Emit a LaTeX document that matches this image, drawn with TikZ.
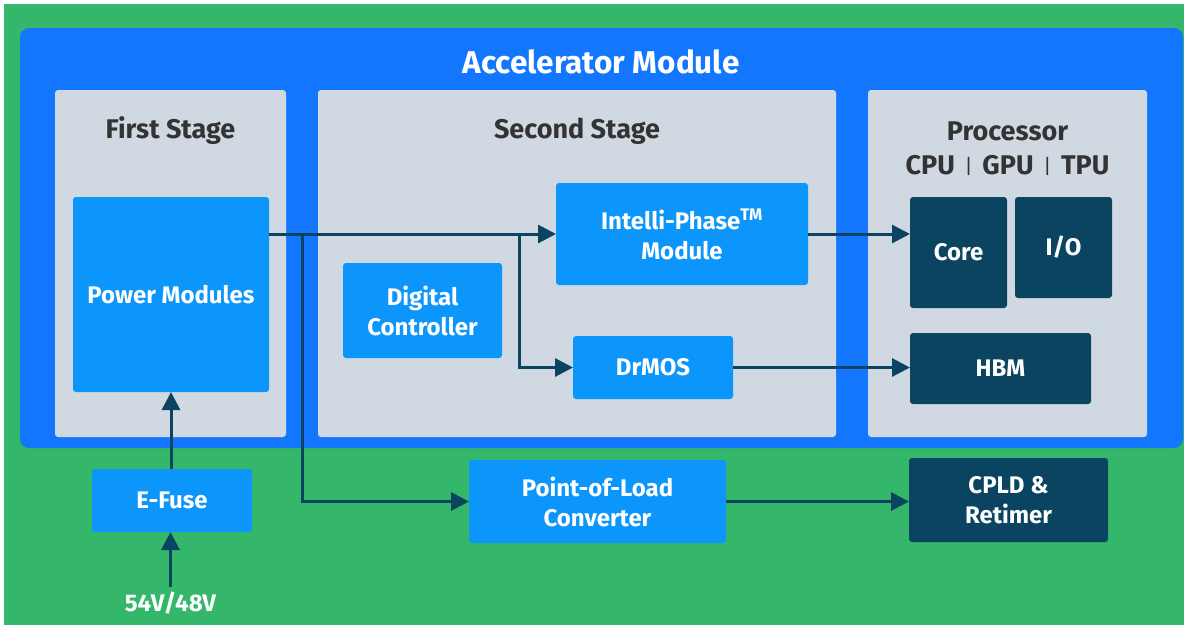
\documentclass[tikz,border=0pt]{standalone}
\usepackage{fontspec}
\setmainfont{Fira Sans}
\usetikzlibrary{arrows.meta}
\definecolor{bggreen}{HTML}{34B76A}
\definecolor{outerblue}{HTML}{1277FE}
\definecolor{panelgray}{HTML}{D0D8E1}
\definecolor{lightblue}{HTML}{0C96FC}
\definecolor{navy}{HTML}{0A4460}
\definecolor{titlegray}{HTML}{333333}
\tikzset{
  panel/.style={fill=panelgray, rounded corners=3pt, draw=none},
  lb/.style={fill=lightblue, rounded corners=3pt, text=white, font=\bfseries\fontsize{24}{30}\selectfont, align=center, inner sep=0pt, outer sep=0pt},
  db/.style={fill=navy, rounded corners=3pt, text=white, font=\bfseries\fontsize{24}{30}\selectfont, align=center, inner sep=0pt, outer sep=0pt},
  ptitle/.style={text=titlegray, font=\bfseries\fontsize{27}{32}\selectfont, inner sep=0pt},
  conn/.style={draw=navy, line width=3pt, -{Triangle[length=18pt,width=18pt]}},
  plain/.style={draw=navy, line width=3pt}
}
\begin{document}
\begin{tikzpicture}[x=1pt,y=-1pt]
\useasboundingbox (0,0) rectangle (1184,625);
\fill[white] (0,0) rectangle (1184,625);
\fill[bggreen] (4,4) rectangle (1184,625);
\fill[outerblue, rounded corners=9pt] (20,28) rectangle (1183,448);
\node[text=white, font=\bfseries\fontsize{31.5}{36}\selectfont, inner sep=0pt] (title) at (601,62) {Accelerator Module};
% panels
\fill[panel] (55,90) rectangle (286,437);
\fill[panel] (318,90) rectangle (836,437);
\fill[panel] (868,90) rectangle (1147,437);
\node[ptitle] (t1) at (170.5,131) {First Stage};
\node[ptitle] (t2) at (577,131) {Second Stage};
\node[ptitle] (t3) at (1007.5,131) {Processor};
\node[ptitle] (t4) at (1007.5,165) {CPU {\mdseries\fontsize{20}{24}\selectfont\,\raisebox{1pt}{|}\,} GPU {\mdseries\fontsize{20}{24}\selectfont\,\raisebox{1pt}{|}\,} TPU};
% boxes
\node[lb, minimum width=196, minimum height=195] (pm) at (171,294.5) {Power Modules};
\node[lb, minimum width=252, minimum height=102] (ip) at (682,234) {Intelli-Phase\textsuperscript{TM}\\Module};
\node[lb, minimum width=159, minimum height=95] (dc) at (422.5,310.5) {Digital\\Controller};
\node[lb, minimum width=160, minimum height=63] (dr) at (653,367.5) {DrMOS};
\node[db, minimum width=97, minimum height=111] (core) at (958.5,252.5) {Core};
\node[db, minimum width=97, minimum height=101] (io) at (1063.5,247.5) {I/O};
\node[db, minimum width=181, minimum height=71] (hbm) at (1000.5,368.5) {HBM};
\node[lb, minimum width=160, minimum height=63] (ef) at (172,500.5) {E-Fuse};
\node[lb, minimum width=257, minimum height=83] (pol) at (597.5,501.5) {Point-of-Load\\Converter};
\node[db, minimum width=199, minimum height=84] (cpld) at (1008.5,500) {CPLD \&\\Retimer};
\node[text=white, font=\bfseries\fontsize{24}{30}\selectfont, inner sep=0pt] (v) at (170.5,603) {54V/48V};
% connectors
\coordinate (b1) at (519,234);
\coordinate (b2) at (302,234);
\draw[conn] (ip.west -| pm.east) -- (ip.west);
\draw[conn] (b1) |- (dr.west);
\draw[conn] (b2) |- (pol.west);
\draw[conn] (ip.east) -- (ip.east -| core.west);
\draw[conn] (dr.east) -- (dr.east -| hbm.west);
\draw[conn] (pol.east) -- (pol.east -| cpld.west);
\draw[conn] (ef.north -| pm.south) -- (pm.south);
\draw[conn] (v.north) ++(0,-5) -- (v.north |- ef.south);
\end{tikzpicture}
\end{document}
